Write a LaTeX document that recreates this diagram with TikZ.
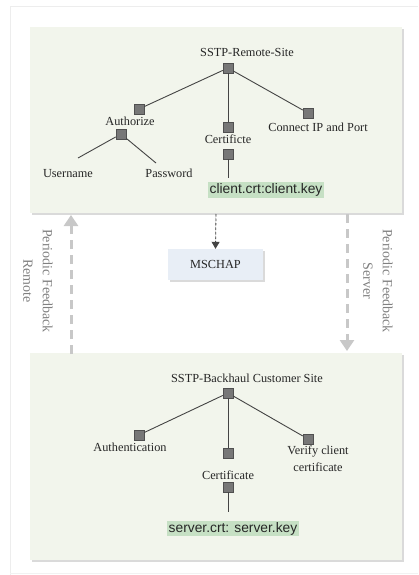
\documentclass[tikz,border=0pt]{standalone}
\usepackage{fontspec}
\setmainfont{Liberation Serif}
\newfontfamily\labsans{Liberation Sans}
\usetikzlibrary{arrows.meta,shadows}
\definecolor{panel}{HTML}{F2F5EC}
\definecolor{keyfill}{HTML}{C6E0C4}
\definecolor{mschapfill}{HTML}{E8EEF6}
\definecolor{sq}{HTML}{777777}
\definecolor{sqdraw}{HTML}{505050}
\definecolor{edge}{HTML}{444444}
\definecolor{fb}{HTML}{C8C8C8}
\definecolor{fbtext}{HTML}{808080}
\tikzset{
  panelbox/.style={fill=panel, draw=none, drop shadow={shadow xshift=2pt, shadow yshift=-2pt, fill=black!18, opacity=0.8}},
  sqnode/.style={rectangle, minimum size=10pt, inner sep=0pt, fill=sq, draw=sqdraw, line width=0.5pt},
  lbl/.style={font=\fontsize{12.3}{17}\selectfont, text=black!85, inner sep=1pt, align=center},
  keybox/.style={fill=keyfill, font=\labsans\fontsize{13.8}{16}\selectfont, inner sep=1.5pt, text=black!85},
  tree/.style={draw=edge, line width=0.9pt},
  fbarrow/.style={draw=fb, line width=3pt, dash pattern=on 9pt off 6pt, -{Triangle[length=11pt,width=14pt]}},
  fblabel/.style={font=\fontsize{14}{19.5}\selectfont, text=fbtext, align=center, rotate=-90},
}
\begin{document}
\begin{tikzpicture}[x=1pt,y=-1pt]
\useasboundingbox (0,0) rectangle (418,575);
\fill[white] (0,0) rectangle (418,575);
% outer frame
\draw[black!7, line width=1pt] (10,575) -- (10,7) -- (418,7);
\draw[black!5, line width=0.8pt] (10,573) -- (418,573);
% panels
\path[panelbox] (30,27) rectangle (402,213);
\path[panelbox] (30,353) rectangle (402,560);

% ---------- top tree ----------
\node[lbl] (rtitle) at (247,52) {SSTP-Remote-Site};
\node[sqnode] (rroot) at (228,68) {};
\node[sqnode] (auth) at (139,109) {};
\node[lbl] (authl) at (130,121) {Authorize};
\node[sqnode] (auth2) at (121,134) {};
\coordinate (userend) at (78,158);
\coordinate (passend) at (156,163);
\node[lbl] (user) at (68,174) {Username};
\node[lbl] (pass) at (169,173) {Password};
\node[sqnode] (cert) at (228,127) {};
\node[lbl] (certl) at (228,139) {Certificte};
\node[sqnode] (cert2) at (228,154) {};
\coordinate (certend) at (228,178);
\node[keybox] (ckey) at (266,190) {client.crt:client.key};
\node[sqnode] (conn) at (308,113) {};
\node[lbl] (connl) at (318,127) {Connect IP and Port};

\draw[tree] (rroot) -- (auth);
\draw[tree] (rroot) -- (cert);
\draw[tree] (rroot) -- (conn);
\draw[tree] (auth2) -- (userend);
\draw[tree] (auth2) -- (passend);
\draw[tree] (cert2) -- (certend);

% ---------- middle ----------
\node[fill=mschapfill, minimum width=95pt, minimum height=31pt, inner sep=0pt,
      font=\fontsize{12.3}{14}\selectfont, text=black!85,
      drop shadow={shadow xshift=1.5pt, shadow yshift=-1.5pt, fill=black!18, opacity=0.8}] (mschap) at (215.5,264.5) {MSCHAP};
\coordinate (mstart) at (216,214);
\draw[draw=edge, line width=0.8pt, dash pattern=on 2.5pt off 2pt, -{Triangle[length=7pt,width=8pt]}, fill=edge] (mstart) -- (mschap.north);

\coordinate (lfrom) at (71,354);
\coordinate (lto) at (71,215);
\draw[fbarrow] (lfrom) -- (lto);
\coordinate (rfrom) at (347,214);
\coordinate (rto) at (347,351);
\draw[fbarrow] (rfrom) -- (rto);
\node[fblabel] (lfb) at (38,281) {Periodic Feedback\\Remote};
\node[fblabel] (rfb) at (378,281) {Periodic Feedback\\Server};

% ---------- bottom tree ----------
\node[lbl] (btitle) at (247,378) {SSTP-Backhaul Customer Site};
\node[sqnode] (broot) at (228,393) {};
\node[sqnode] (bauth) at (139,435) {};
\node[lbl] (bauthl) at (130,447) {Authentication};
\node[sqnode] (bcert) at (228,453) {};
\node[lbl] (bcertl) at (228,475) {Certificate};
\node[sqnode] (bcert2) at (228,487) {};
\coordinate (bcertend) at (228,512);
\node[keybox] (skey) at (233,528.5) {server.crt: server.key};
\node[sqnode] (bver) at (308,439) {};
\node[lbl] (bverl) at (318,459) {Verify client\\certificate};

\draw[tree] (broot) -- (bauth);
\draw[tree] (broot) -- (bcert);
\draw[tree] (broot) -- (bver);
\draw[tree] (bcert2) -- (bcertend);
\end{tikzpicture}
\end{document}
